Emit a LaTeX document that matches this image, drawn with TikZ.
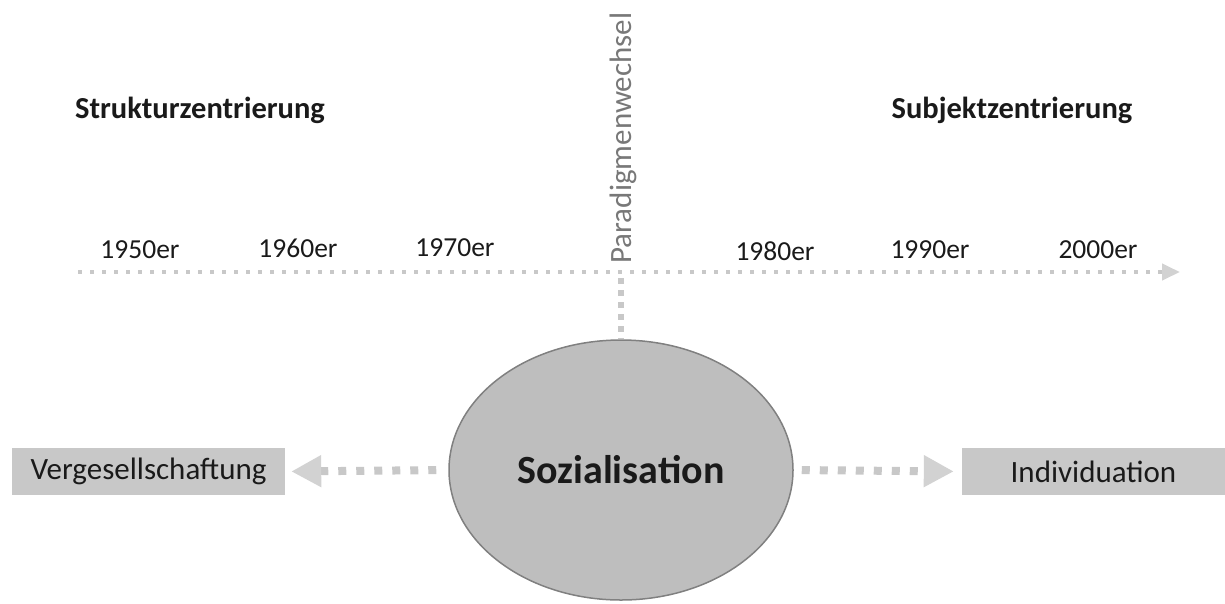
\documentclass[tikz,border=0pt]{standalone}
\usepackage{fontspec}
\setmainfont{Carlito}
\usetikzlibrary{shapes.geometric,arrows.meta}
\definecolor{dotgray}{HTML}{C8C8C8}
\definecolor{headgray}{HTML}{D2D2D2}
\definecolor{boxgray}{HTML}{C8C8C8}
\definecolor{ellfill}{HTML}{BEBEBE}
\definecolor{elldraw}{HTML}{808080}
\definecolor{txtgray}{HTML}{787878}
\definecolor{txt}{HTML}{1A1A1A}
\tikzset{
  year/.style={text=txt,font=\fontsize{27.5}{32}\selectfont,inner sep=0pt},
  heading/.style={text=txt,font=\bfseries\fontsize{30.5}{36}\selectfont,inner sep=0pt},
  sidebox/.style={fill=boxgray,minimum height=47pt,inner sep=0pt,text=txt,font=\fontsize{31}{36}\selectfont},
  timeline/.style={dotgray,line width=4pt,dash pattern=on 4pt off 8pt,-{Triangle[length=18pt,width=16pt,fill=headgray,color=headgray]}},
  vline/.style={dotgray,line width=6pt,dash pattern=on 6pt off 6pt},
  bigarrow/.style={dotgray,line width=8pt,dash pattern=on 8pt off 10pt,-{Triangle[length=30pt,width=30pt,fill=headgray,color=headgray]}}
}
\begin{document}
\begin{tikzpicture}[x=1pt,y=-1pt]
\useasboundingbox (0,0) rectangle (1225,603);
% headings
\node[heading] (struk) at (200,110) {Strukturzentrierung};
\node[heading] (subj) at (1012,110) {Subjektzentrierung};
% years
\node[year] (y50) at (140,250) {1950er};
\node[year] (y60) at (298,248) {1960er};
\node[year] (y70) at (455,248) {1970er};
\node[year] (y80) at (775,251) {1980er};
\node[year] (y90) at (930,250) {1990er};
\node[year] (y00) at (1098,250) {2000er};
% paradigm label
\node[rotate=90,text=txtgray,font=\fontsize{31}{36}\selectfont,inner sep=0pt] (para) at (623,138) {Paradigmenwechsel};
% timeline
\coordinate (tlstart) at (78,272);
\coordinate (tlend) at (1180,272);
\coordinate (tlmid) at (621,278);
\draw[timeline] (tlstart) -- (tlend);
% central ellipse
\node[ellipse,fill=ellfill,draw=elldraw,line width=1.5pt,minimum width=344pt,minimum height=260pt,inner sep=0pt,
      text=txt,font=\bfseries\fontsize{40}{46}\selectfont] (soz) at (621,470) {Sozialisation};
\draw[vline] (tlmid) -- (soz.north);
% side boxes
\node[sidebox,minimum width=273pt] (verg) at (148.5,471.5) {Vergesellschaftung};
\node[sidebox,minimum width=263pt] (indiv) at (1093.5,471.5) {Individuation};
% arrows
\draw[bigarrow,shorten <=12pt,shorten >=6pt] (soz.west) -- (verg.east);
\draw[bigarrow,shorten <=8pt,shorten >=8pt] (soz.east) -- (indiv.west);
\end{tikzpicture}
\end{document}
